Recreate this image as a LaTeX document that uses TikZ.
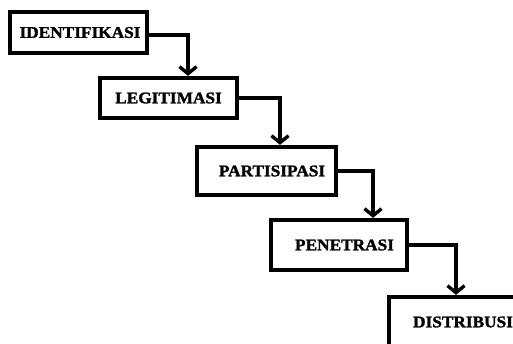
\documentclass[tikz,border=0pt]{standalone}
\usepackage{fontspec}
\setmainfont{Liberation Serif}
\newfontfamily\boxfont[FakeStretch=1.06,FakeBold=1.6]{Liberation Serif Bold}
\usetikzlibrary{arrows.meta,calc}
\begin{document}
\begin{tikzpicture}[x=1pt,y=-1pt,
  box/.style={draw=black,line width=4.2pt,fill=white,inner sep=0pt,
    font=\boxfont\fontsize{16.3}{18}\selectfont,text=black},
  conn/.style={draw=black,line width=3.6pt,
    -{Straight Barb[length=7pt,width=17pt,line width=3.4pt]}}]
\useasboundingbox (0,0) rectangle (513,344);
\clip (0,0) rectangle (513,344);
\fill[white] (0,0) rectangle (513,344);
\node[box,minimum width=137pt,minimum height=41pt] (b1) at (78.5,32.5) {\hspace*{3pt}IDENTIFIKASI};
\node[box,minimum width=137pt,minimum height=40pt] (b2) at (168.5,98) {LEGITIMASI};
\node[box,minimum width=139pt,minimum height=48pt] (b3) at (266.5,171) {\hspace*{11pt}PARTISIPASI};
\node[box,minimum width=136pt,minimum height=50pt] (b4) at (339,245) {\hspace*{11pt}PENETRASI};
\node[box,minimum width=136pt,minimum height=50pt] (b5) at (457,322) {\hspace*{12pt}DISTRIBUSI};
\draw[conn] ([yshift=-2.5pt]b1.east) -| ($(b2.north)+(19.5,0)$);
\draw[conn] (b2.east) -| ($(b3.north)+(13.5,0)$);
\draw[conn] (b3.east) -| ($(b4.north)+(34,0)$);
\draw[conn] (b4.east) -| ($(b5.north)+(-1,0)$);
\end{tikzpicture}
\end{document}
